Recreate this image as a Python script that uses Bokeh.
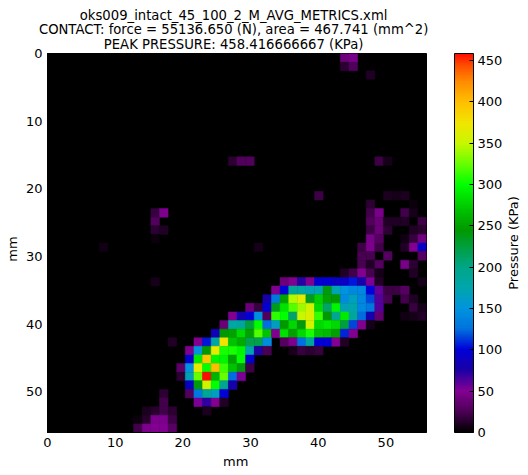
import numpy as np
from bokeh.plotting import figure
from bokeh.models import (LinearColorMapper, ColorBar, FixedTicker, Range1d, Label, ColumnDataSource)
from bokeh.transform import transform
from bokeh.embed import file_html
from bokeh.resources import INLINE

title_lines = ["oks009_intact_45_100_2_M_AVG_METRICS.xml",
               "CONTACT: force = 55136.650 (N), area = 467.741 (mm^2)",
               "PEAK PRESSURE: 458.416666667 (KPa)"]
x_ticks = [0, 10, 20, 30, 40, 50]
y_ticks = [0, 10, 20, 30, 40, 50]
bar_ticks = [0, 50, 100, 150, 200, 250, 300, 350, 400, 450]
peak = 458.4167
size_mm = 56
n_cells = 44

# colour bar anchors
stop_values = [0, 25, 50, 75, 100, 125, 150, 175, 200, 245, 265, 283, 300, 325, 350, 375, 400, 425, 445, 458.4]
stop_r = [0, .30, .52, .10, 0, 0, 0, 0, 0, 0, 0, 0, 0, .40, .78, .95, 1, 1, 1, 1]
stop_g = [0, 0, 0, 0, 0, .45, .58, .65, .65, .60, .73, .87, 1, 1, .97, .90, .75, .55, .30, .05]
stop_b = [0, .34, .58, .65, .85, .87, .87, .67, .53, 0, 0, 0, 0, 0, 0, 0, 0, 0, 0, 0]

# pressure by sensor row: {column: KPa}
row_00 = {34: 40, 35: 45}
row_01 = {34: 15, 35: 28}
row_02 = {37: 12}
row_12 = {21: 15, 22: 28, 23: 28, 38: 20, 39: 8}
row_16 = {31: 20, 39: 10, 40: 8, 41: 10}
row_17 = {37: 15, 42: 4}
row_18 = {12: 18, 13: 48, 37: 22, 38: 45, 41: 22, 42: 8}
row_19 = {12: 28, 37: 28, 38: 38, 39: 12, 40: 12, 41: 12, 43: 20}
row_20 = {12: 15, 13: 12, 37: 20, 38: 38, 39: 15, 42: 12, 43: 14}
row_21 = {12: 4, 37: 45, 38: 30, 41: 6, 42: 18, 43: 42}
row_22 = {6: 6, 24: 8, 36: 20, 37: 48, 38: 22, 41: 12, 42: 50, 43: 90}
row_23 = {36: 25, 37: 25, 39: 30, 43: 30}
row_24 = {36: 25, 37: 12, 38: 30, 41: 45, 42: 15}
row_25 = {34: 12, 35: 22, 36: 50, 37: 25, 38: 8, 42: 12}
row_26 = {12: 8, 27: 40, 28: 50, 29: 72, 30: 50, 31: 95, 32: 97, 33: 90, 34: 90, 35: 105, 36: 78, 37: 52, 38: 12, 43: 8}
row_27 = {26: 50, 27: 97, 28: 185, 29: 182, 30: 170, 31: 172, 32: 240, 33: 172, 34: 150, 35: 140, 36: 140, 37: 100, 38: 58, 39: 20, 40: 20, 41: 30}
row_28 = {25: 78, 26: 130, 27: 250, 28: 345, 29: 365, 30: 235, 31: 275, 32: 250, 33: 245, 34: 145, 35: 165, 36: 140, 37: 115, 38: 62, 39: 25, 41: 22, 42: 12}
row_29 = {23: 40, 24: 18, 25: 97, 26: 235, 27: 285, 28: 320, 29: 340, 30: 355, 31: 280, 32: 210, 33: 295, 34: 170, 35: 175, 36: 140, 37: 130, 38: 62, 42: 18, 43: 8}
row_30 = {21: 50, 22: 80, 23: 97, 24: 147, 25: 28, 26: 310, 27: 300, 28: 210, 29: 350, 30: 360, 31: 312, 32: 245, 33: 195, 34: 290, 35: 185, 36: 125, 37: 80, 38: 35, 41: 6, 42: 8, 43: 12}
row_31 = {20: 38, 21: 180, 22: 185, 23: 225, 24: 298, 25: 125, 26: 165, 27: 245, 28: 280, 29: 240, 30: 355, 31: 280, 32: 290, 33: 280, 34: 225, 35: 115, 36: 50, 37: 8}
row_32 = {19: 85, 20: 245, 21: 250, 22: 280, 23: 250, 24: 320, 25: 270, 26: 50, 27: 285, 28: 250, 29: 280, 30: 305, 31: 270, 32: 265, 33: 250, 34: 108, 35: 50}
row_33 = {14: 12, 17: 50, 18: 105, 19: 180, 20: 375, 21: 270, 22: 255, 23: 220, 24: 220, 25: 145, 27: 30, 28: 48, 29: 125, 30: 185, 31: 100, 32: 97, 33: 50, 34: 12}
row_34 = {16: 50, 17: 150, 18: 245, 19: 370, 20: 305, 21: 305, 22: 295, 23: 175, 24: 75, 25: 25, 28: 8, 29: 18, 30: 15, 31: 18}
row_35 = {16: 95, 17: 290, 18: 395, 19: 295, 20: 295, 21: 250, 22: 300, 23: 95}
row_36 = {15: 33, 16: 150, 17: 370, 18: 300, 19: 400, 20: 315, 21: 270, 22: 240, 23: 20}
row_37 = {15: 15, 16: 170, 17: 325, 18: peak, 19: 260, 20: 325, 21: 125, 22: 52}
row_38 = {16: 90, 17: 240, 18: 355, 19: 300, 20: 195, 21: 78}
row_39 = {13: 15, 16: 28, 17: 130, 18: 190, 19: 165, 20: 97}
row_40 = {13: 22, 17: 52, 18: 70, 19: 50, 20: 12}
row_41 = {11: 10, 12: 14, 13: 22, 14: 15, 18: 10}
row_42 = {10: 4, 11: 14, 12: 48, 13: 48, 14: 20}
row_43 = {10: 22, 11: 48, 12: 50, 13: 50, 14: 32}

sensor_rows = {0: row_00, 1: row_01, 2: row_02, 12: row_12, 16: row_16, 17: row_17, 18: row_18, 19: row_19,
               20: row_20, 21: row_21, 22: row_22, 23: row_23, 24: row_24, 25: row_25, 26: row_26, 27: row_27,
               28: row_28, 29: row_29, 30: row_30, 31: row_31, 32: row_32, 33: row_33, 34: row_34, 35: row_35,
               36: row_36, 37: row_37, 38: row_38, 39: row_39, 40: row_40, 41: row_41, 42: row_42, 43: row_43}

pitch = size_mm / n_cells
xs, ys, vs = [], [], []
for r in range(n_cells):
    cells = sensor_rows.get(r, {})
    for c in range(n_cells):
        if c in cells:
            xs.append((c + 0.5) * pitch)
            ys.append((r + 0.5) * pitch)
            vs.append(cells[c])
source = ColumnDataSource(dict(x=xs, y=ys, v=vs))

levels = np.linspace(0, peak, 256)
palette = ["#%02x%02x%02x" % (int(round(255 * a)), int(round(255 * b)), int(round(255 * d)))
           for a, b, d in zip(np.interp(levels, stop_values, stop_r),
                              np.interp(levels, stop_values, stop_g),
                              np.interp(levels, stop_values, stop_b))]
mapper = LinearColorMapper(palette=palette, low=0, high=peak)

FONT = "DejaVu Sans"
p = figure(width=528, height=475, frame_width=379, frame_height=379,
           min_border_left=47, min_border_right=0, min_border_top=53, min_border_bottom=43,
           x_range=Range1d(0, size_mm), y_range=Range1d(size_mm, 0),
           background_fill_color="black", toolbar_location=None, output_backend="svg")
p.grid.visible = False
p.rect(x="x", y="y", width=pitch, height=pitch, source=source,
       fill_color=transform("v", mapper), line_color=transform("v", mapper), line_width=0.5)

for ax, ticks in ((p.xaxis, x_ticks), (p.yaxis, y_ticks)):
    ax.ticker = FixedTicker(ticks=ticks)
    ax.major_label_text_font = FONT
    ax.major_label_text_font_size = "13px"
    ax.major_label_text_color = "black"
    ax.major_tick_in = 4
    ax.major_tick_out = 0
    ax.minor_tick_in = 0
    ax.minor_tick_out = 0
    ax.axis_line_color = "black"
p.outline_line_color = "black"

cb = ColorBar(color_mapper=mapper, width=19, height=379, location=(28, 0), padding=0, margin=0,
              ticker=FixedTicker(ticks=bar_ticks), major_tick_in=4, major_tick_line_color="black",
              minor_tick_line_color=None, bar_line_color="black", bar_line_width=1,
              major_label_text_font=FONT, major_label_text_font_size="13px", major_label_text_color="black",
              label_standoff=4, border_line_color=None, background_fill_alpha=0)
p.add_layout(cb, "right")

def side_label(text, x, y, place, angle=0, size="13px"):
    p.add_layout(Label(x=x, y=y, text=text, angle=angle, text_align="center", text_baseline="alphabetic",
                       text_font=FONT, text_font_size=size, text_color="black"), place)

for line, y in zip(title_lines, (-5.6, -3.5, -1.3)):
    side_label(line, 27.5, y, "above", size="13.2px")
side_label("Pressure (KPa)", 68.9, 28, "right", np.pi / 2)
side_label("mm", -5.15, 28.9, "left", np.pi / 2)
side_label("mm", 27.8, 60.3, "below")

open("out.html", "w").write(file_html(p, INLINE))
